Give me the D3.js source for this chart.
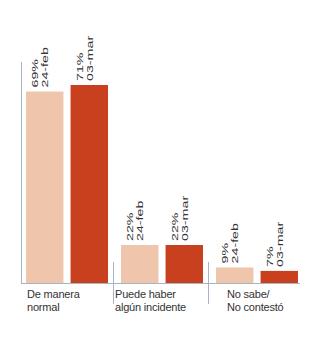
<!DOCTYPE html>
<html>
<head>
<meta charset="utf-8">
<script src="https://cdn.jsdelivr.net/npm/d3@7"></script>
<style>
body { margin: 0; background: #fff; }
svg { display: block; }
</style>
</head>
<body>
<div id="chart"></div>
<script>
// data
var categories = ["De manera|normal", "Puede haber|algún incidente", "No sabe/|No contestó"];
var series = ["24-feb", "03-mar"];
var values_feb = [69, 22, 9];
var values_mar = [71, 22, 7];
var series_color = ["#efc6ab", "#c8401e"];

var width = 310, height = 337;
var baseline = 283;
var label_dx = [7, 0, 17];

var svg = d3.select("#chart").append("svg")
    .attr("width", width)
    .attr("height", height);

// the source chart does not keep one scale for all groups, so a piecewise scale
var y = d3.scaleLinear()
    .domain([0, 22, 71])
    .range([baseline, 245, 85]);

var x0 = d3.scaleBand()
    .domain(categories)
    .range([20, 305]);

var x1 = d3.scaleBand()
    .domain(series)
    .range([6, 88])
    .paddingInner(0.16);

var rows = categories.map(function(c, i) {
    return {cat: c, i: i, vals: [values_feb[i], values_mar[i]]};
});

// axis lines
var axis_color = "#aab3c3";
svg.append("line")
    .attr("x1", 21.5).attr("x2", 21.5)
    .attr("y1", 62).attr("y2", baseline)
    .attr("stroke", axis_color).attr("stroke-width", 1);
svg.append("line")
    .attr("x1", 21).attr("x2", 300)
    .attr("y1", baseline + 0.5).attr("y2", baseline + 0.5)
    .attr("stroke", axis_color).attr("stroke-width", 1);

categories.forEach(function(c, i) {
    if (i == 0) return;
    svg.append("line")
        .attr("x1", x0(c) - 1.5).attr("x2", x0(c) - 1.5)
        .attr("y1", 262).attr("y2", 304)
        .attr("stroke", axis_color).attr("stroke-width", 1);
});

var groups = svg.selectAll("g.grp")
    .data(rows)
    .enter().append("g")
    .attr("class", "grp")
    .attr("transform", function(d) { return "translate(" + x0(d.cat) + ",0)"; });

groups.selectAll("rect")
    .data(function(d) { return d.vals.map(function(v, j) { return {s: series[j], v: v, j: j}; }); })
    .enter().append("rect")
    .attr("x", function(d) { return x1(d.s); })
    .attr("width", x1.bandwidth())
    .attr("y", function(d) { return y(d.v); })
    .attr("height", function(d) { return baseline - y(d.v); })
    .attr("fill", function(d) { return series_color[d.j]; });

// rotated value labels (the source looks stretched along the text)
var labs = groups.selectAll("g.lab")
    .data(function(d) { return d.vals.map(function(v, j) { return {s: series[j], v: v}; }); })
    .enter().append("g")
    .attr("class", "lab")
    .attr("transform", function(d) {
        return "translate(" + (x1(d.s) + 12) + "," + (y(d.v) - 4) + ") rotate(-90) scale(1.5,1)";
    })
    .style("font-family", "'Liberation Sans', Arial, sans-serif")
    .style("font-size", "9.5px")
    .attr("fill", "#333");
labs.append("text").attr("x", 0).attr("y", 0).text(function(d) { return d.v + "%"; });
labs.append("text").attr("x", 0).attr("y", 10).text(function(d) { return d.s; });

// category labels
var cat_lab = groups.append("g")
    .attr("transform", function(d) { return "translate(" + label_dx[d.i] + ",298)"; })
    .style("font-family", "'Liberation Sans', Arial, sans-serif")
    .style("font-size", "11px")
    .style("letter-spacing", "-0.2px")
    .attr("fill", "#333");
cat_lab.selectAll("text")
    .data(function(d) { return d.cat.split("|"); })
    .enter().append("text")
    .attr("x", 0)
    .attr("y", function(d, k) { return k * 12.5; })
    .text(function(d) { return d; });
</script>
</body>
</html>
